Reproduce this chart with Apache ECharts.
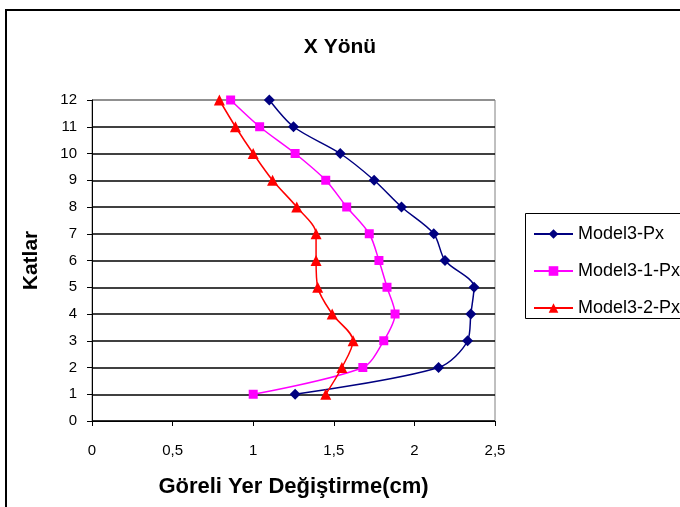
<!DOCTYPE html>
<html>
<head>
<meta charset="utf-8">
<script src="https://cdn.jsdelivr.net/npm/echarts@6/dist/echarts.min.js"></script>
<style>html,body{margin:0;padding:0;background:#fff}#c{width:680px;height:507px}</style>
</head>
<body>
<div id="c"></div>
<script>
const floors = [1, 2, 3, 4, 5, 6, 7, 8, 9, 10, 11, 12];
const model3Px = [1.26, 2.15, 2.33, 2.35, 2.37, 2.19, 2.12, 1.92, 1.75, 1.54, 1.25, 1.10];
const model3_1Px = [1.00, 1.68, 1.81, 1.88, 1.83, 1.78, 1.72, 1.58, 1.45, 1.26, 1.04, 0.86];
const model3_2Px = [1.45, 1.55, 1.62, 1.49, 1.40, 1.39, 1.39, 1.27, 1.12, 1.00, 0.89, 0.79];
const seriesNames = ['Model3-Px', 'Model3-1-Px', 'Model3-2-Px'];

const pairs = vals => vals.map((v, i) => [v, floors[i]]);
const FONT = '"Liberation Sans", Arial, sans-serif';

const chart = echarts.init(document.getElementById('c'), null, {renderer: 'canvas'});
const splitColors = [];
for (let i = 0; i < 12; i++) splitColors.push('#000');
splitColors.push('#808080');

chart.setOption({
  animation: false,
  backgroundColor: '#fff',
  title: {
    text: 'X Yönü', left: 'center', top: 32,
    textStyle: {fontFamily: FONT, fontSize: 21, fontWeight: 'bold', color: '#000'}
  },
  grid: {
    left: 92, right: 185, top: 100, bottom: 86,
    show: true, borderColor: '#808080', borderWidth: 1, backgroundColor: '#fff'
  },
  legend: {
    orient: 'vertical', left: 533, top: 225, itemGap: 19,
    itemWidth: 39, itemHeight: 12,
    data: seriesNames,
    textStyle: {fontFamily: FONT, fontSize: 18, color: '#000', lineHeight: 18},
    borderWidth: 0, padding: 0
  },
  graphic: [
    {type: 'rect', z: 100, silent: true,
     shape: {x: 6, y: 10, width: 690, height: 510},
     style: {fill: 'none', stroke: '#000', lineWidth: 2}},
    {type: 'rect', z: 100, silent: true,
     shape: {x: 525.5, y: 213.5, width: 170, height: 105},
     style: {fill: 'none', stroke: '#000', lineWidth: 1}}
  ],
  xAxis: {
    type: 'value', min: 0, max: 2.5, interval: 0.5,
    name: 'Göreli Yer Değiştirme(cm)', nameLocation: 'middle', nameGap: 55,
    nameTextStyle: {fontFamily: FONT, fontSize: 22, fontWeight: 'bold', color: '#000'},
    axisLine: {show: true, onZero: false, lineStyle: {color: '#000', width: 1}},
    axisTick: {show: true, inside: false, length: 5, lineStyle: {color: '#000'}},
    axisLabel: {fontFamily: FONT, fontSize: 15, color: '#000', margin: 22,
      formatter: v => String(v).replace('.', ',')},
    splitLine: {show: false}
  },
  yAxis: {
    type: 'value', min: 0, max: 12, interval: 1,
    name: 'Katlar', nameLocation: 'middle', nameGap: 50,
    nameTextStyle: {fontFamily: FONT, fontSize: 21, fontWeight: 'bold', color: '#000'},
    axisLine: {show: true, onZero: false, lineStyle: {color: '#000', width: 1}},
    axisTick: {show: true, inside: false, length: 5, lineStyle: {color: '#000'}},
    axisLabel: {fontFamily: FONT, fontSize: 15, color: '#000', margin: 15},
    splitLine: {show: true, lineStyle: {color: splitColors, width: 1.5}}
  },
  series: [
    {name: seriesNames[0], type: 'line', smooth: 0.3, data: pairs(model3Px),
     symbol: 'diamond', symbolSize: 11,
     itemStyle: {color: '#000080'}, lineStyle: {color: '#000080', width: 1.5}},
    {name: seriesNames[1], type: 'line', smooth: 0.3, data: pairs(model3_1Px),
     symbol: 'rect', symbolSize: 9,
     itemStyle: {color: '#FF00FF'}, lineStyle: {color: '#FF00FF', width: 1.5}},
    {name: seriesNames[2], type: 'line', smooth: 0.3, data: pairs(model3_2Px),
     symbol: 'triangle', symbolSize: 11,
     itemStyle: {color: '#FF0000'}, lineStyle: {color: '#FF0000', width: 1.5}}
  ]
});
</script>
</body>
</html>
